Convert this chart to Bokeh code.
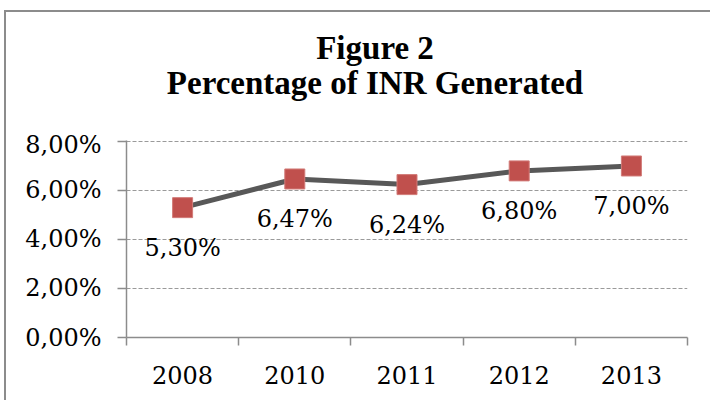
from bokeh.plotting import figure
from bokeh.layouts import column
from bokeh.models import FixedTicker, Range1d
from bokeh.core.properties import value
from bokeh.embed import file_html
from bokeh.resources import INLINE

years = ["2008", "2010", "2011", "2012", "2013"]
inr_pct = [5.30, 6.47, 6.24, 6.80, 7.00]
label_texts = ["5,30%", "6,47%", "6,24%", "6,80%", "7,00%"]
y_ticks = [0, 2, 4, 6, 8]
y_tick_labels = ["0,00%", "2,00%", "4,00%", "6,00%", "8,00%"]
title_lines = ["Figure 2", "Percentage of INR Generated"]

xs = [i + 0.5 for i in range(len(years))]
x_rng = Range1d(0, len(years))

# ---- title strip (its own small figure; its frame is aligned with the chart's frame) ----
TH = 118
pt = figure(width=704, height=TH, output_backend="svg", toolbar_location=None,
            x_range=x_rng, y_range=Range1d(0, TH),
            x_axis_location=None, y_axis_location=None,
            min_border=0, min_border_left=0, min_border_right=0, min_border_top=0, min_border_bottom=0)
pt.outline_line_color = None
pt.grid.visible = False
title_x = 2.215
pt.text([title_x, title_x], [83, 48], text=title_lines, text_align="center", text_baseline="middle",
        text_font=value("Liberation Serif"), text_font_size="33px", text_font_style="bold",
        text_color="#000000")

# ---- main chart ----
p = figure(width=704, height=270, output_backend="svg", toolbar_location=None,
           x_range=x_rng, y_range=Range1d(0, 8.04),
           min_border_left=120, min_border_right=23, min_border_top=10, min_border_bottom=63)
p.outline_line_color = None

# x axis: labels at category centers, ticks between categories
xa = p.xaxis[0]
xa.ticker = FixedTicker(ticks=xs, minor_ticks=list(range(len(years) + 1)))
xa.major_label_overrides = {x: y for x, y in zip(xs, years)}
xa.major_tick_line_color = None
xa.minor_tick_in = 0
xa.minor_tick_out = 8
xa.minor_tick_line_color = "#8c8c8c"
xa.axis_line_color = "#8c8c8c"
xa.axis_line_width = 1.5
xa.minor_tick_line_width = 1.5
xa.major_label_text_font = "DejaVu Serif"
xa.major_label_text_font_size = "24px"
xa.major_label_text_color = "#000000"
xa.major_label_standoff = 20

ya = p.yaxis[0]
ya.ticker = FixedTicker(ticks=y_ticks, minor_ticks=[])
ya.major_label_overrides = {v: s for v, s in zip(y_ticks, y_tick_labels)}
ya.major_tick_in = 0
ya.major_tick_out = 9
ya.major_tick_line_color = "#8c8c8c"
ya.major_tick_line_width = 1.5
ya.axis_line_color = "#8c8c8c"
ya.axis_line_width = 1.5
ya.major_label_text_font = "DejaVu Serif"
ya.major_label_text_font_size = "24px"
ya.major_label_text_color = "#000000"
ya.major_label_standoff = 16

p.xgrid.grid_line_color = None
p.ygrid.ticker = FixedTicker(ticks=[2, 4, 6, 8])
p.ygrid.grid_line_color = "#9a9a9a"
p.ygrid.grid_line_dash = "4 2"
p.ygrid.grid_line_width = 1.2

p.line(xs, inr_pct, line_color="#585858", line_width=5)
p.scatter(xs, inr_pct, marker="square", size=20, fill_color="#C0504D", line_color="#D27B78", line_width=1)
p.text(xs, inr_pct, text=label_texts, y_offset=40, text_align="center", text_baseline="middle",
       text_font=value("DejaVu Serif"), text_font_size="24px", text_color="#000000")

layout = column(pt, p, spacing=0,
                styles={"margin-left": "4px", "margin-top": "10px",
                        "border-left": "2px solid #8c8c8c", "border-top": "2px solid #8c8c8c"})

open("out.html", "w").write(file_html(layout, INLINE))
